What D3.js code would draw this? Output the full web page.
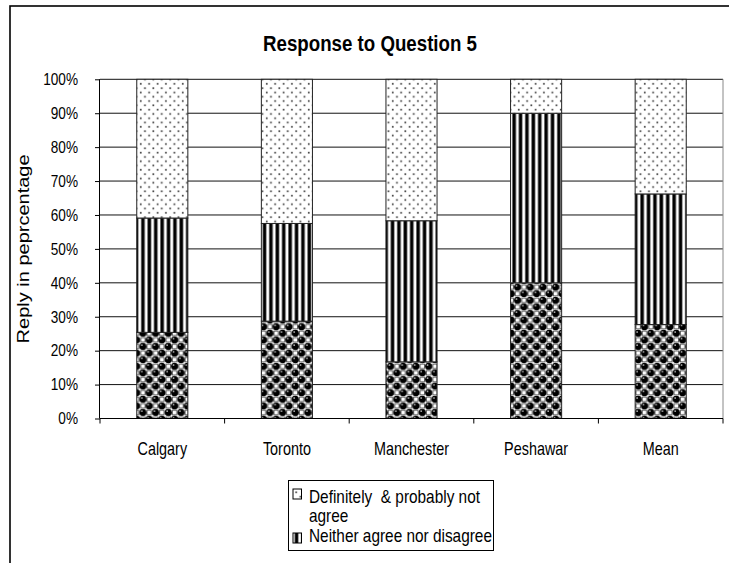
<!DOCTYPE html>
<html>
<head>
<meta charset="utf-8">
<script src="https://cdn.jsdelivr.net/npm/d3@7/dist/d3.min.js"></script>
<style>
  html, body { margin: 0; padding: 0; background: #fff; }
  svg { display: block; }
  text { font-family: "Liberation Sans", Arial, sans-serif; fill: #000; }
</style>
</head>
<body>
<svg id="chart" width="729" height="563"></svg>
<script>
// Stacked shares of replies per city (percent)
const categories = ["Calgary", "Toronto", "Manchester", "Peshawar", "Mean"];
const agree    = [25.4, 28.7, 16.7, 40.0, 27.7];
const neither  = [33.7, 28.8, 41.6, 50.0, 38.5];
const notAgree = [40.9, 42.5, 41.7, 10.0, 33.8];
const yTicks = [0, 10, 20, 30, 40, 50, 60, 70, 80, 90, 100];

const title = "Response to Question 5";
const yTitle = "Reply in peprcentage";
const legendItems = [
  { key: "notAgree", lines: ["Definitely  & probably not", "agree"] },
  { key: "neither",  lines: ["Neither agree nor disagree"] }
];

const rows = categories.map((c, i) => ({
  category: c, agree: agree[i], neither: neither[i], notAgree: notAgree[i]
}));
const keys = ["agree", "neither", "notAgree"];
const stacked = d3.stack().keys(keys)(rows);

const svg = d3.select("#chart");
const plot = { left: 100, right: 723, top: 79.3, bottom: 418.5 };

const x = d3.scaleBand()
  .domain(categories)
  .range([plot.left, plot.right])
  .paddingInner(0.59)
  .paddingOuter(0.295);
const y = d3.scaleLinear().domain([0, 100]).range([plot.bottom, plot.top]);

// ---- fill patterns ----
const defs = svg.append("defs");

// sparse grey dots
const pDots = defs.append("pattern")
  .attr("id", "pat-notAgree").attr("patternUnits", "userSpaceOnUse")
  .attr("width", 8.4).attr("height", 8.6);
pDots.append("rect").attr("width", 8.4).attr("height", 8.6).attr("fill", "#fff");
pDots.append("rect").attr("x", 1.3).attr("y", 1.3).attr("width", 1.7).attr("height", 1.7).attr("fill", "#444");
pDots.append("rect").attr("x", 5.5).attr("y", 5.6).attr("width", 1.7).attr("height", 1.7).attr("fill", "#444");

// vertical stripes
const pStripe = defs.append("pattern")
  .attr("id", "pat-neither").attr("patternUnits", "userSpaceOnUse")
  .attr("width", 6.4).attr("height", 6);
pStripe.append("rect").attr("width", 6.4).attr("height", 6).attr("fill", "#fff");
pStripe.append("rect").attr("x", 0.4).attr("width", 3.2).attr("height", 6).attr("fill", "#000");
pStripe.append("rect").attr("x", 3.6).attr("width", 0.7).attr("height", 6).attr("fill", "#888");

// black spheres on a checker
const pBall = defs.append("pattern")
  .attr("id", "pat-agree").attr("patternUnits", "userSpaceOnUse")
  .attr("width", 12.7).attr("height", 13.2);
pBall.append("rect").attr("width", 12.7).attr("height", 13.2).attr("fill", "#fff");
[[9.5, 3.3], [3.2, 9.9]].forEach(([cx, cy]) => {
  pBall.append("rect").attr("x", cx - 2.2).attr("y", cy - 2.2).attr("width", 4.4).attr("height", 4.4)
    .attr("fill", "#fff").attr("stroke", "#555").attr("stroke-width", 0.9);
});
[[3.2, 3.3], [9.5, 9.9], [-3.15, 9.9], [15.85, 3.3], [9.5, -3.3], [3.2, 16.5]].forEach(([cx, cy]) => {
  pBall.append("circle").attr("cx", cx).attr("cy", cy).attr("r", 3.6).attr("fill", "#000");
  pBall.append("circle").attr("cx", cx - 1.1).attr("cy", cy - 1.3).attr("r", 0.9).attr("fill", "#ccc");
});

// ---- outer frame ----
svg.append("rect")
  .attr("x", 10).attr("y", 6).attr("width", 740).attr("height", 580)
  .attr("fill", "none").attr("stroke", "#000").attr("stroke-width", 1.6);

// ---- title ----
svg.append("text")
  .attr("transform", "translate(370,51) scale(0.85,1)")
  .attr("text-anchor", "middle")
  .style("font-size", "22px").style("font-weight", "bold")
  .text(title);

// ---- gridlines ----
svg.append("g").selectAll("line").data(yTicks).join("line")
  .attr("x1", plot.left).attr("x2", plot.right)
  .attr("y1", d => y(d)).attr("y2", d => y(d))
  .attr("stroke", "#111").attr("stroke-width", 1);

// plot area right edge
svg.append("line")
  .attr("x1", plot.right).attr("x2", plot.right)
  .attr("y1", plot.top).attr("y2", plot.bottom)
  .attr("stroke", "#888").attr("stroke-width", 1);

// ---- bars ----
svg.append("g").selectAll("g").data(stacked).join("g")
  .attr("fill", d => `url(#pat-${d.key})`)
  .selectAll("rect").data(d => d).join("rect")
  .attr("x", d => x(d.data.category))
  .attr("width", x.bandwidth())
  .attr("y", d => y(d[1]))
  .attr("height", d => y(d[0]) - y(d[1]))
  .attr("stroke", "#222").attr("stroke-width", 1);

// ---- y axis ----
const yAxis = d3.axisLeft(y).tickValues(yTicks).tickSize(5).tickFormat("");
const yg = svg.append("g").attr("transform", `translate(${plot.left},0)`).call(yAxis);
yg.select(".domain").attr("stroke", "#000").attr("d", `M-0.5,${plot.top}V${plot.bottom}`);
yg.selectAll(".tick line").attr("stroke", "#000");

svg.append("g").selectAll("text").data(yTicks).join("text")
  .attr("transform", d => `translate(78,${y(d) + 5.8}) scale(0.85,1)`)
  .attr("text-anchor", "end")
  .style("font-size", "16px")
  .text(d => d + "%");

svg.append("text")
  .attr("transform", `translate(29,${(plot.top + plot.bottom) / 2}) rotate(-90) scale(1,0.8)`)
  .attr("text-anchor", "middle")
  .style("font-size", "20px")
  .text(yTitle);

// ---- x axis ----
svg.append("line")
  .attr("x1", plot.left).attr("x2", plot.right)
  .attr("y1", plot.bottom).attr("y2", plot.bottom)
  .attr("stroke", "#000").attr("stroke-width", 1);

const step = x.step();
const bounds = categories.map(c => x(c) - step * x.paddingInner() / 2).concat([plot.right]);
svg.append("g").selectAll("line").data(bounds).join("line")
  .attr("x1", d => d).attr("x2", d => d)
  .attr("y1", plot.bottom).attr("y2", plot.bottom + 5)
  .attr("stroke", "#000");

svg.append("g").selectAll("text").data(categories).join("text")
  .attr("transform", d => `translate(${x(d) + x.bandwidth() / 2},455) scale(0.8,1)`)
  .attr("text-anchor", "middle")
  .style("font-size", "18px")
  .text(d => d);

// ---- legend ----
const lg = svg.append("g");
lg.append("rect")
  .attr("x", 288.5).attr("y", 480.5).attr("width", 205).attr("height", 70)
  .attr("fill", "#fff").attr("stroke", "#000").attr("stroke-width", 1);

const legendRows = [
  { swatchY: 489, baselines: [503, 522] },
  { swatchY: 533, baselines: [542] }
];
legendItems.forEach((item, i) => {
  const r = legendRows[i];
  lg.append("rect")
    .attr("x", 293).attr("y", r.swatchY).attr("width", 8.5).attr("height", 10)
    .attr("fill", `url(#pat-${item.key})`).attr("stroke", "#000").attr("stroke-width", 1);
  item.lines.forEach((line, j) => {
    lg.append("text")
      .attr("transform", `translate(309,${r.baselines[j]}) scale(0.855,1)`)
      .style("font-size", "18px")
      .style("white-space", "pre")
      .attr("xml:space", "preserve")
      .text(line);
  });
});
</script>
</body>
</html>
